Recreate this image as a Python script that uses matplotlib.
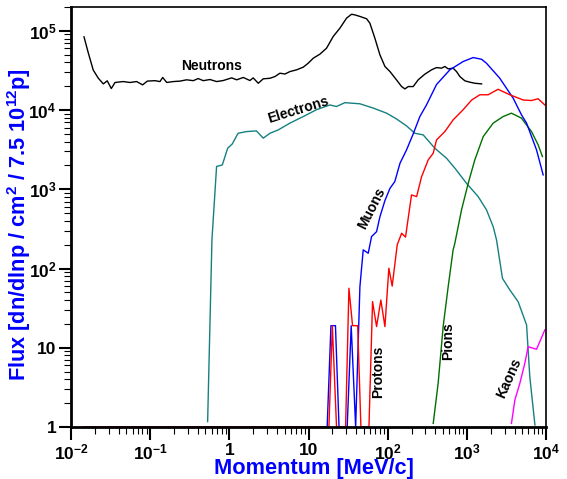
import matplotlib
matplotlib.use("Agg")
import matplotlib.pyplot as plt
from matplotlib.ticker import LogLocator, NullFormatter

plt.rcParams['font.family'] = ['Liberation Sans', 'DejaVu Sans']
plt.rcParams['font.weight'] = 'bold'
plt.rcParams['mathtext.fontset'] = 'custom'
plt.rcParams['mathtext.rm'] = 'Liberation Sans:bold'
plt.rcParams['mathtext.it'] = 'Liberation Sans:bold:italic'
plt.rcParams['mathtext.bf'] = 'Liberation Sans:bold'
plt.rcParams['mathtext.default'] = 'bf'

# momentum [MeV/c] e flusso
neutron_p = [0.0146, 0.0166, 0.0191, 0.0221, 0.0256, 0.0287, 0.0323, 0.036, 0.0457, 0.0556,
             0.0675, 0.0803, 0.092, 0.115, 0.133, 0.144, 0.162, 0.196, 0.238, 0.289, 0.35,
             0.405, 0.468, 0.569, 0.691, 0.838, 1.07, 1.24, 1.5, 1.82, 2.0, 2.32, 2.68, 3.26,
             3.77, 4.36, 5.04, 5.82, 7.07, 8.58, 9.9, 11.5, 13.9, 16.9, 20.5, 24.9, 30.3, 35,
             38.5, 44.6, 54.2, 59.6, 68.9, 79.8, 92.3, 107, 129, 150, 165, 182, 210, 243, 295,
             358, 414, 479, 527, 581, 671, 741, 816, 944, 1090, 1260, 1535]
neutron_f = [84000, 52000, 32000, 25300, 21400, 23400, 18700, 22300, 22900, 22300,
             22900, 20800, 23200, 23500, 22900, 25800, 22300, 22900, 23200, 24100, 23500,
             25000, 23500, 24300, 22900, 23600, 25500, 24100, 25800, 23600, 25500, 21800, 24800, 25200,
             26500, 29200, 28500, 30600, 32200, 34800, 39000, 45200, 50700, 60400, 84800, 108000, 145000, 162000,
             159000, 152000, 142000, 125000, 80800, 49800, 35500, 30600, 24100, 19800, 18500, 19800, 19800, 24100, 28400,
             32200, 34400, 33800, 35500, 33100, 33800, 30600, 26500, 23400, 22500, 21800, 21400]

electron_p = [0.532, 0.603, 0.69, 0.815, 0.953, 1.09, 1.29, 1.65, 2.2, 2.68, 3.26, 4.15, 5.82,
              8.58, 12.6, 18.6, 22.6, 28.8, 44.6, 65.6, 96.8, 129, 173, 220, 281, 394, 553,
              705, 990, 1390, 1770, 2150, 2370, 2820, 3490, 4450, 5680, 6240, 7240]
electron_f = [1.17, 230, 1940, 2030, 3300, 3740, 5100, 5350, 5460, 4420, 5100, 5620, 6840,
              8280, 10100, 11600, 11100, 12400, 12000, 10600, 9140, 7740, 6310, 5100, 4860, 3300, 2470,
              1850, 1190, 809, 550, 338, 230, 75, 53.7, 38, 19.4, 4.3, 1.06]

muon_p = [0.0146, 17.2, 19.2, 21.9, 24.3, 30.8, 34.6, 39.4, 44.6, 49.1, 56.8, 62.6, 72.4, 79.8,
          92.3, 107, 123, 143, 173, 210, 255, 309, 414, 610, 898, 1200, 1535, 1770, 2600, 3850,
          4900, 5680, 7590, 9200]
muon_f = [1, 1, 19, 19, 1, 1, 19, 1, 59, 172, 156, 253, 292, 450,
          720, 1030, 1250, 2130, 3140, 5000, 8280, 11600, 21000, 32200, 41000, 46000, 43800, 39000, 25300, 14100,
          8700, 6840, 3140, 1520]

proton_p = [0.0146, 18.1, 20, 22.6, 29.4, 32.4, 36, 41.8, 45.9, 58, 64.4, 72.4, 82, 92.3, 103.5,
            114, 132, 150, 168, 200, 232, 268, 325, 376, 414, 527, 671, 898, 1150, 1460, 1860,
            2480, 3490, 5140, 6560, 7950, 9660]
proton_f = [1, 1, 19, 1, 1, 56.4, 19, 19, 1, 1, 38.2, 18.5, 40, 18.5, 101,
            60, 199, 279, 249, 849, 809, 1440, 2350, 2850, 4200, 5350, 7520, 10100, 13400, 15600, 15600,
            18300, 15600, 13400, 13200, 13900, 11600]

pion_p = [376, 434, 502, 581, 671, 705, 857, 1040, 1260, 1610, 2150, 2870, 3660, 4900, 6560, 7950, 9010]
pion_f = [1.11, 3.56, 18.5, 59, 172, 208, 550, 1190, 2350, 4630, 6840, 8280, 9140, 7900, 5350, 3640, 2590]

kaon_p = [3660, 4040, 4670, 5400, 5940, 7590, 9660]
kaon_f = [1.11, 2.19, 3.56, 6.37, 10.3, 9.57, 16.8]

fig = plt.figure(figsize=(5.67, 4.79), dpi=100)
ax = fig.add_axes([0.1252, 0.1086, 0.963 - 0.1252, 0.9854 - 0.1086])

ax.plot(neutron_p, neutron_f, color='black', lw=1)
ax.plot(electron_p, electron_f, color='#158080', lw=1)
ax.plot(pion_p, pion_f, color='#007000', lw=1)
ax.plot(kaon_p, kaon_f, color='#ff00ff', lw=1)
ax.plot(muon_p, muon_f, color='#0000ff', lw=1)
ax.plot(proton_p, proton_f, color='#ff0000', lw=1)

ax.set_xscale('log')
ax.set_yscale('log')
ax.set_xlim(1e-2, 1e4)
ax.set_ylim(1, 2e5)

xt = [1e-2, 1e-1, 1, 10, 1e2, 1e3, 1e4]
xl = ['$10^{-2}$', '$10^{-1}$', '1', '10', '$10^2$', '$10^3$', '$10^4$']
yt = [1, 10, 1e2, 1e3, 1e4, 1e5]
yl = ['1', '10', '$10^2$', '$10^3$', '$10^4$', '$10^5$']
ax.set_xticks(xt)
ax.set_xticklabels(xl)
ax.set_yticks(yt)
ax.set_yticklabels(yl)
ax.xaxis.set_minor_locator(LogLocator(base=10, subs=range(2, 10), numticks=20))
ax.yaxis.set_minor_locator(LogLocator(base=10, subs=range(2, 10), numticks=20))
ax.xaxis.set_minor_formatter(NullFormatter())
ax.yaxis.set_minor_formatter(NullFormatter())

ax.tick_params(which='major', direction='out', length=9, width=1.5, labelsize=12.5, pad=1.5)
ax.tick_params(which='minor', direction='out', length=5, width=0.8)
ax.tick_params(axis='x', which='major', pad=2.5)
for s in ['left', 'bottom']:
    ax.spines[s].set_linewidth(2)
for s in ['top', 'right']:
    ax.spines[s].set_linewidth(1.2)

ax.set_xlabel('Momentum [MeV/c]', color='#0000ff', fontsize=15.7, fontweight='bold')
ax.set_ylabel('Flux [dn/dlnp / cm$^2$ / 7.5 10$^{12}$p]', color='#0000ff', fontsize=15.7,
              fontweight='bold')
ax.xaxis.set_label_coords(0.5116, -0.074)
ax.yaxis.set_label_coords(-0.08, 0.483)

# etichette delle curve
ax.text(0.60, 36100, 'Neutrons', fontsize=10, fontweight='bold', ha='center', va='center')
ax.text(7.35, 10070, 'Electrons', fontsize=10, fontweight='bold', ha='center', va='center', rotation=17)
ax.text(62.6, 577, 'Muons', fontsize=10, fontweight='bold', ha='center', va='center', rotation=63)
ax.text(76.7, 4.9, 'Protons', fontsize=10, fontweight='bold', ha='center', va='center', rotation=90)
ax.text(587, 12.3, 'Pions', fontsize=10, fontweight='bold', ha='center', va='center', rotation=90)
ax.text(3390, 4.12, 'Kaons', fontsize=10, fontweight='bold', ha='center', va='center', rotation=66)

fig.savefig('out.png', dpi=100)
